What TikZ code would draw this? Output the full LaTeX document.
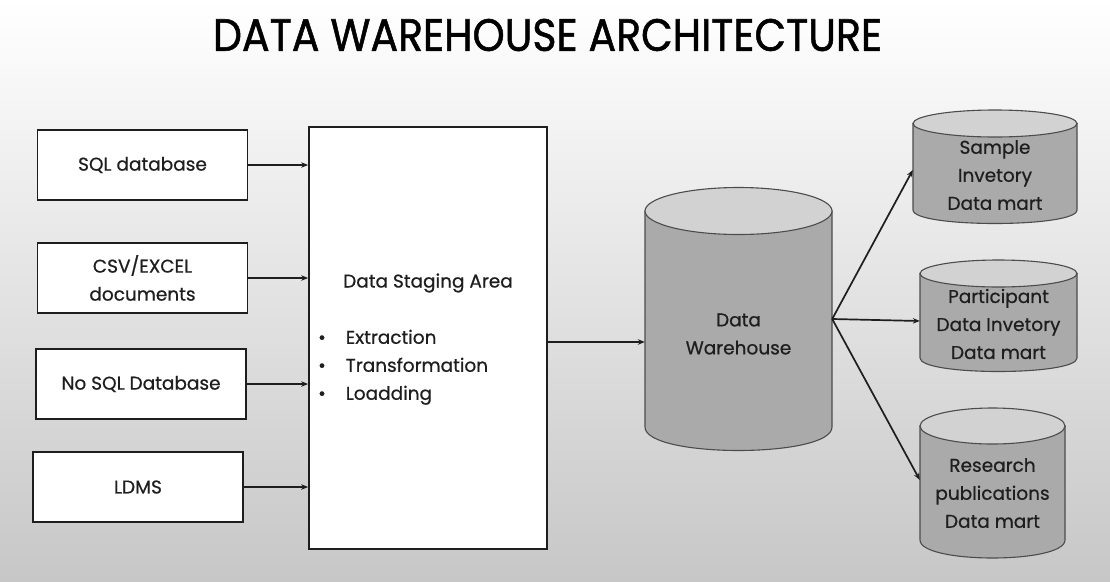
\documentclass[tikz,border=0pt]{standalone}
\usepackage{fontspec}
\setmainfont{Poppins}
\newfontfamily\bodyfont{Poppins}[FakeBold=0.6]
\newfontfamily\titlefont{Poppins}[FakeBold=1.2]
\usetikzlibrary{arrows.meta,calc}
\definecolor{cylbody}{RGB}{170,170,170}
\definecolor{cyltop}{RGB}{210,210,210}
\definecolor{ink}{RGB}{30,30,30}
\newcommand{\mycyl}[5]{%
  \filldraw[cylline,fill=cylbody] ({#1-#4},#2) -- ({#1-#4},#3)
    .. controls ({#1-#4},{#3+1.333*#5}) and ({#1+#4},{#3+1.333*#5}) .. ({#1+#4},#3)
    -- ({#1+#4},#2) -- cycle;
  \filldraw[cylline,fill=cyltop] (#1,#2) ellipse [x radius=#4, y radius=#5];}
\begin{document}
\begin{tikzpicture}[x=1pt,y=-1pt,
  txt/.style={font=\bodyfont\fontsize{18.5}{28}\selectfont, text=ink, align=center},
  srcbox/.style={draw=ink, line width=1.7pt, fill=white, minimum width=210pt,
     minimum height=70pt, inner sep=0pt, txt},
  cylline/.style={draw=black!70, line width=1.1pt},
  ghost/.style={draw=none, inner sep=0pt},
  arr/.style={draw=ink, line width=1.7pt, -{Stealth[length=7pt,width=5.5pt]}}]
\shade[top color=white, bottom color=black!22] (0,0) rectangle (1110,581);
\useasboundingbox (0,0) rectangle (1110,581);

\node[text=black, inner sep=0pt] (title) at (547.5,35)
  {\resizebox{669pt}{32pt}{\titlefont\fontsize{40}{40}\selectfont DATA WAREHOUSE ARCHITECTURE}};

\node[srcbox] (sql) at (142.5,165) {SQL database};
\node[srcbox] (csv) at (142.5,278) {CSV/EXCEL\\documents};
\node[srcbox] (nosql) at (141,384) {No SQL Database};
\node[srcbox] (ldms) at (138,487) {LDMS};

\node[draw=ink, line width=1.7pt, fill=white, minimum width=238pt, minimum height=422pt,
  inner sep=0pt] (stage) at (428,338) {};
\node[txt] (stitle) at (428,283) {Data Staging Area};
\node[txt, anchor=north west, inner sep=0pt] (steps) at (318,324)
  {\begin{tabular}{@{}l@{\hspace{20pt}}l@{}}
   • & Extraction\\ • & Transformation\\ • & Loadding
   \end{tabular}};

\mycyl{738.5}{211}{427}{93.5}{23.5}
\node[ghost, minimum width=187pt, minimum height=216pt] (dw) at (738.5,319) {};
\node[txt] (dwt) at (738.5,334) {Data\\Warehouse};

\mycyl{995}{123.5}{210}{82}{13.5}
\node[ghost, minimum width=164pt, minimum height=86pt] (sm) at (995,167) {};
\node[txt] (smt) at (995,175) {Sample\\Invetory\\Data mart};

\mycyl{998.5}{273.5}{358}{78.5}{13.5}
\node[ghost, minimum width=157pt, minimum height=84pt] (pm) at (998.5,316) {};
\node[txt] (pmt) at (998.5,324) {Participant\\Data Invetory\\Data mart};

\mycyl{992.5}{426}{540}{72.5}{18}
\node[ghost, minimum width=145pt, minimum height=114pt] (rm) at (992.5,483) {};
\node[txt] (rmt) at (992.5,493) {Research\\publications\\Data mart};

\draw[arr] (sql.east) -- (sql.east -| stage.west);
\draw[arr] (csv.east) -- (csv.east -| stage.west);
\draw[arr] (nosql.east) -- (nosql.east -| stage.west);
\draw[arr] (ldms.east) -- (ldms.east -| stage.west);
\draw[arr] ([yshift=-4pt]stage.east) -- ([yshift=-4pt]stage.east -| dw.west);
\draw[arr] (dw.east) -- ([yshift=-3pt]sm.west);
\draw[arr] (dw.east) -- ([yshift=-5pt]pm.west);
\draw[arr] (dw.east) -- ([yshift=3pt]rm.west);
\end{tikzpicture}
\end{document}
